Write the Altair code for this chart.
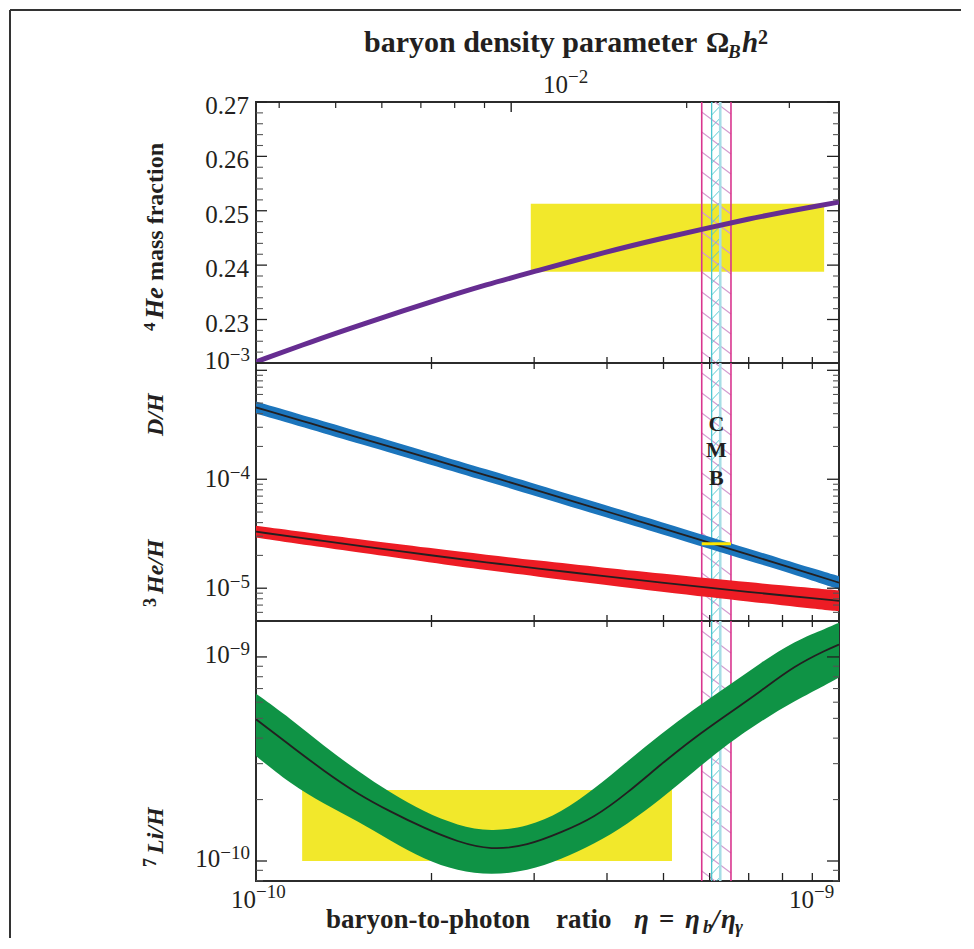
import altair as alt
import numpy as np
import pandas as pd

FONT = "Liberation Serif"
INK = "#231F20"
E10 = 1e-10

# ---------------- data (eta in units of 1e-10) ----------------
eta_grid = [1.0, 1.25, 1.5, 2.0, 2.5, 3.0, 4.0, 5.0, 6.0, 7.0, 8.0, 9.0, 10.0]

he4_yp = [0.2222, 0.2260, 0.2289, 0.2333, 0.2365, 0.2388, 0.2425, 0.2450,
          0.2469, 0.2485, 0.2497, 0.2507, 0.2516]

dh_mid = [4.56e-4, 3.22e-4, 2.42e-4, 1.535e-4, 1.076e-4, 8.04e-5, 5.05e-5,
          3.52e-5, 2.61e-5, 2.03e-5, 1.63e-5, 1.34e-5, 1.125e-5]
dh_hi = [5.18e-4, 3.65e-4, 2.75e-4, 1.74e-4, 1.22e-4, 9.13e-5, 5.73e-5,
         4.00e-5, 2.96e-5, 2.30e-5, 1.85e-5, 1.53e-5, 1.29e-5]
dh_lo = [4.02e-4, 2.84e-4, 2.13e-4, 1.35e-4, 9.48e-5, 7.08e-5, 4.45e-5,
         3.10e-5, 2.30e-5, 1.79e-5, 1.44e-5, 1.17e-5, 0.98e-5]

he3_mid = [3.30e-5, 2.80e-5, 2.45e-5, 2.00e-5, 1.72e-5, 1.53e-5, 1.28e-5,
           1.12e-5, 1.008e-5, 9.25e-6, 8.60e-6, 8.08e-6, 7.66e-6]
he3_hi = [3.74e-5, 3.20e-5, 2.82e-5, 2.33e-5, 2.02e-5, 1.81e-5, 1.53e-5,
          1.36e-5, 1.229e-5, 1.135e-5, 1.060e-5, 1.001e-5, 9.54e-6]
he3_lo = [2.92e-5, 2.45e-5, 2.13e-5, 1.72e-5, 1.46e-5, 1.29e-5, 1.07e-5,
          9.25e-6, 8.27e-6, 7.54e-6, 6.97e-6, 6.52e-6, 6.15e-6]

li_eta = [1.000, 1.148, 1.308, 1.494, 1.704, 1.942, 2.218, 2.530, 2.924, 3.336,
          3.804, 4.341, 4.951, 5.646, 6.445, 7.348, 8.381, 9.564, 10.0]
li_mid = [4.95, 3.66, 2.76, 2.13, 1.74, 1.45, 1.24, 1.13, 1.19, 1.38,
          1.63, 2.16, 2.98, 4.02, 5.24, 6.81, 9.04, 10.9, 11.5]
li_hi = [6.61, 4.97, 3.66, 2.76, 2.15, 1.74, 1.49, 1.39, 1.47, 1.73,
         2.25, 3.09, 4.20, 5.56, 7.21, 9.38, 11.97, 13.9, 14.7]
li_lo = [3.27, 2.38, 1.90, 1.57, 1.25, 1.02, 0.893, 0.853, 0.893, 1.02,
         1.21, 1.52, 2.01, 2.76, 3.75, 4.85, 6.08, 7.38, 7.93]

# observational boxes
he4_box_eta = [2.96, 9.43]
he4_box_y = [0.2388, 0.2513]
li_box_eta = [1.20, 5.17]
li_box_y = [1.00, 2.23]          # x 1e-10
dh_bar_eta = [5.815, 6.527]
dh_bar_y = [2.48e-5, 2.64e-5]

# CMB band
cmb_outer = [5.815, 6.527]
cmb_inner = [6.047, 6.256]

# top axis: Omega_B h^2 ticks, eta10 = Omega / 3.65e-3
omega_ticks = [4e-3, 5e-3, 6e-3, 7e-3, 8e-3, 9e-3, 1e-2, 2e-2, 3e-2]
omega_major = [1e-2]
omega_to_eta10 = 1 / 3.65e-3

# ---------------- scales ----------------
W = 583
H1, H2, H3 = 261, 258, 260
X = alt.Scale(type="log", domain=[1e-10, 1e-9], nice=False)
Y1 = alt.Scale(type="linear", domain=[0.222, 0.270], zero=False, nice=False)
Y2 = alt.Scale(type="log", domain=[5.0e-6, 1.167e-3], nice=False)
Y3 = alt.Scale(type="log", domain=[7.98e-11, 1.5e-9], nice=False)

YELLOW = "#F2E82B"
PURPLE = "#662D91"
BLUE = "#1C75BC"
RED = "#ED1C24"
GREEN = "#0F9345"
MAG = "#D9358E"
MAG_H = "#D39ACF"
CYAN = "#4CC5CE"
CYAN_L = "#A6DDE6"
INTERP = "basis"


def xe(f="eta"):
    return alt.X(f"{f}:Q", scale=X, axis=None)


def ye(f, sc):
    return alt.Y(f"{f}:Q", scale=sc, axis=None)


def band(eta, lo, hi, sc, color, mult=1.0):
    df = pd.DataFrame({"eta": [e * E10 for e in eta],
                       "lo": [v * mult for v in lo],
                       "hi": [v * mult for v in hi]})
    return alt.Chart(df).mark_area(color=color, clip=True, interpolate=INTERP).encode(
        x=xe(), y=ye("lo", sc), y2="hi:Q")


def line(eta, vals, sc, color=INK, width=1.8, mult=1.0):
    df = pd.DataFrame({"eta": [e * E10 for e in eta], "v": [v * mult for v in vals]})
    return alt.Chart(df).mark_line(color=color, strokeWidth=width, clip=True,
                                   interpolate=INTERP).encode(x=xe(), y=ye("v", sc))


def box(eta2, y2, sc, color, mult=1.0):
    df = pd.DataFrame({"x": [eta2[0] * E10], "x2": [eta2[1] * E10],
                       "y": [y2[0] * mult], "y2": [y2[1] * mult]})
    return alt.Chart(df).mark_rect(color=color, clip=True).encode(
        x=xe("x"), x2="x2:Q", y=ye("y", sc), y2="y2:Q")


def px_to_val(p, H, kind, lo, hi):
    if kind == "linear":
        return hi - p / H * (hi - lo)
    return 10 ** (np.log10(hi) - p / H * (np.log10(hi) - np.log10(lo)))


def cmb(H, sc, kind, lo, hi):
    rows = []
    for p in np.arange(-30.0, H + 30.0, 20.0):
        rows.append(dict(x=cmb_outer[0] * E10, x2=cmb_outer[1] * E10,
                         y=px_to_val(p, H, kind, lo, hi),
                         y2=px_to_val(p + 22, H, kind, lo, hi)))
    mag = pd.DataFrame(rows)
    rows = []
    for p in np.arange(-20.0, H + 20.0, 12.0):
        rows.append(dict(x=cmb_inner[0] * E10, x2=cmb_inner[1] * E10,
                         y=px_to_val(p + 9, H, kind, lo, hi),
                         y2=px_to_val(p, H, kind, lo, hi)))
    cya = pd.DataFrame(rows)
    hm = alt.Chart(mag).mark_rule(color=MAG_H, strokeWidth=1.1, clip=True).encode(
        x=xe("x"), x2="x2:Q", y=ye("y", sc), y2="y2:Q")
    hc = alt.Chart(cya).mark_rule(color=CYAN, strokeWidth=0.9, clip=True).encode(
        x=xe("x"), x2="x2:Q", y=ye("y", sc), y2="y2:Q")
    vl = pd.DataFrame({"eta": [cmb_outer[0] * E10, cmb_outer[1] * E10,
                               cmb_inner[0] * E10, cmb_inner[1] * E10],
                       "c": [MAG, MAG, CYAN, CYAN_L],
                       "w": [1.6, 1.6, 1.3, 2.6]})
    vr = alt.Chart(vl).mark_rule().encode(
        x=xe(), y=alt.value(0), y2=alt.value(H),
        color=alt.Color("c:N", scale=None),
        strokeWidth=alt.StrokeWidth("w:Q", scale=None))
    return hm + hc + vr


def hticks(vals, sc, x0, x1, color="#222222", w=1.3):
    return alt.Chart(pd.DataFrame({"v": vals})).mark_rule(color=color, strokeWidth=w).encode(
        y=ye("v", sc), x=alt.value(x0), x2=alt.value(x1))


def vticks(vals, y0, y1, color="#222222", w=1.3):
    return alt.Chart(pd.DataFrame({"eta": vals})).mark_rule(color=color, strokeWidth=w).encode(
        x=xe(), y=alt.value(y0), y2=alt.value(y1))


def yticks_all(major, minor, sc):
    return (hticks(major, sc, 0, 11) + hticks(minor, sc, 0, 7, "#555555", 1.1)
            + hticks(major, sc, W - 12, W) + hticks(minor, sc, W - 6, W, "#555555", 1.1))


def pow_label(v, sc, exp, dyb=8, dye=0, xr=-6, fb=25, fe=19):
    expw = fe * (0.564 + 0.5 * (len(exp) - 1))
    df = pd.DataFrame({"v": [v], "b": ["10"], "e": [exp]})
    b = alt.Chart(df).mark_text(align="right", baseline="alphabetic", dy=dyb, font=FONT,
                                fontSize=fb, color=INK).encode(
        y=ye("v", sc), x=alt.value(xr - expw), text="b:N")
    e = alt.Chart(df).mark_text(align="right", baseline="alphabetic", dy=dye, font=FONT,
                                fontSize=fe, color=INK).encode(
        y=ye("v", sc), x=alt.value(xr), text="e:N")
    return b + e


def txt(s, x, y, size=25, weight="normal", style="normal", align="left", angle=0,
        baseline="alphabetic", color=INK):
    kw = dict(font=FONT, fontSize=size, fontWeight=weight, fontStyle=style,
              align=align, baseline=baseline, color=color)
    if angle:
        kw["angle"] = angle
    return alt.Chart(pd.DataFrame({"t": [s]})).mark_text(**kw).encode(
        x=alt.value(x), y=alt.value(y), text="t:N")


eta_minor_ticks = [k * E10 for k in range(2, 10)]

# ---------------- top panel: 4He ----------------
top_major = [0.23, 0.24, 0.25, 0.26, 0.27]
top_minor = [round(0.222 + 0.002 * i, 3) for i in range(25)]
top_minor = [v for v in top_minor if all(abs(v - m) > 1e-6 for m in top_major)]

om_df = pd.DataFrame({"eta": [o * omega_to_eta10 * E10 for o in omega_ticks]})
om_min = om_df[[o not in omega_major for o in omega_ticks]]
om_maj = om_df[[o in omega_major for o in omega_ticks]]

top_labels = pd.DataFrame({"v": top_major, "t": [f"{v:.2f}" for v in top_major]})

frame = (alt.Chart(pd.DataFrame({"a": [0]})).mark_rule(color="#333333", strokeWidth=2).encode(
    x=alt.value(-246), x2=alt.value(705), y=alt.value(-92))
    + alt.Chart(pd.DataFrame({"a": [0]})).mark_rule(color="#333333", strokeWidth=2).encode(
    x=alt.value(-246), y=alt.value(-92), y2=alt.value(836)))

top = alt.layer(
    frame,
    box(he4_box_eta, he4_box_y, Y1, YELLOW),
    cmb(H1, Y1, "linear", 0.222, 0.270),
    line(eta_grid, he4_yp, Y1, PURPLE, 5),
    yticks_all(top_major, top_minor, Y1),
    alt.Chart(om_min).mark_rule(color="#222222", strokeWidth=1.2).encode(
        x=xe(), y=alt.value(0), y2=alt.value(6)),
    alt.Chart(om_maj).mark_rule(color="#222222", strokeWidth=1.4).encode(
        x=xe(), y=alt.value(0), y2=alt.value(10)),
    alt.Chart(top_labels).mark_text(align="right", baseline="alphabetic", dy=12, font=FONT,
                                    fontSize=25, color=INK).encode(
        y=ye("v", Y1), x=alt.value(-7), text="t:N"),
    # top title
    txt("baryon density parameter", 108, -50, 30, "bold"),
    txt("\u03a9", 450, -50, 29, "bold"),
    txt("B", 472, -44, 19, "bold", "italic"),
    txt("h", 486, -50, 29, "bold", "italic"),
    txt("2", 502, -58, 20, "bold"),
    # top axis label 10^-2
    txt("10", 312, -9, 25, align="right"),
    txt("\u22122", 312, -19, 19),
    # y title
    txt("4", -101, 229, 17, "bold", angle=270),
    txt("He", -93, 217, 26, "bold", "italic", angle=270),
    txt("mass fraction", -93, 179, 24, "bold", angle=270),
).properties(width=W, height=H1)

# ---------------- middle panel: D and 3He ----------------
mid_major = [1e-5, 1e-4, 1e-3]
mid_minor = [k * 10.0 ** e for e in (-6, -5, -4) for k in range(2, 10)]
mid_minor = [v for v in mid_minor if 5.0e-6 <= v <= 1.167e-3]

cmb_letters = pd.DataFrame({"eta": [6.16 * E10] * 3, "yp": [61, 87, 115], "t": ["C", "M", "B"]})

mid = alt.layer(
    cmb(H2, Y2, "log", 5.0e-6, 1.167e-3),
    band(eta_grid, he3_lo, he3_hi, Y2, RED),
    line(eta_grid, he3_mid, Y2),
    band(eta_grid, dh_lo, dh_hi, Y2, BLUE),
    line(eta_grid, dh_mid, Y2),
    box(dh_bar_eta, dh_bar_y, Y2, "#FFE600"),
    alt.Chart(cmb_letters).mark_text(font=FONT, fontSize=22, fontWeight="bold", color=INK,
                                     baseline="middle").encode(
        x=xe(), y=alt.Y("yp:Q", scale=None), text="t:N"),
    yticks_all(mid_major, mid_minor, Y2),
    vticks(eta_minor_ticks, -6, 6),
    pow_label(1e-4, Y2, "\u22124"),
    pow_label(1e-5, Y2, "\u22125"),
    pow_label(1e-3, Y2, "\u22123", dyb=-1, dye=-9),
    txt("D/H", -93, 73, 24, "bold", "italic", angle=270),
    txt("3", -100, 244, 18, "bold", angle=270),
    txt("He/H", -93, 231, 24, "bold", "italic", angle=270),
).properties(width=W, height=H2)

# ---------------- bottom panel: 7Li ----------------
bot_major = [1e-10, 1e-9]
bot_minor = [8e-11, 9e-11] + [k * 1e-10 for k in range(2, 10)]

xlab = pd.DataFrame({"eta": [1e-10, 1e-9], "b": ["10", "10"], "e": ["\u221210", "\u22129"]})

bot = alt.layer(
    box(li_box_eta, li_box_y, Y3, YELLOW, mult=E10),
    cmb(H3, Y3, "log", 7.98e-11, 1.5e-9),
    band(li_eta, li_lo, li_hi, Y3, GREEN, mult=E10),
    line(li_eta, li_mid, Y3, mult=E10),
    yticks_all(bot_major, bot_minor, Y3),
    vticks(eta_minor_ticks, -6, 6),
    vticks(eta_minor_ticks, H3 - 8, H3),
    pow_label(1e-9, Y3, "\u22129", dyb=6, dye=-2),
    pow_label(1e-10, Y3, "\u221210", dyb=6, dye=-2),
    alt.Chart(xlab.iloc[[0]]).mark_text(align="right", baseline="alphabetic", font=FONT,
                                        fontSize=25, color=INK).encode(
        x=xe(), y=alt.value(287), text="b:N"),
    alt.Chart(xlab.iloc[[0]]).mark_text(align="left", baseline="alphabetic", font=FONT,
                                        fontSize=19, color=INK).encode(
        x=xe(), y=alt.value(277), text="e:N"),
    alt.Chart(xlab.iloc[[1]]).mark_text(align="right", baseline="alphabetic", font=FONT,
                                        fontSize=25, color=INK, dx=-25).encode(
        x=xe(), y=alt.value(287), text="b:N"),
    alt.Chart(xlab.iloc[[1]]).mark_text(align="left", baseline="alphabetic", font=FONT,
                                        fontSize=19, color=INK, dx=-25).encode(
        x=xe(), y=alt.value(277), text="e:N"),
    # x title
    txt("baryon-to-photon", 70, 307, 27, "bold"),
    txt("ratio", 300, 307, 27, "bold"),
    txt("\u03b7", 378, 307, 27, "bold", "italic"),
    txt("=", 403, 307, 27, "bold"),
    txt("\u03b7", 429, 307, 27, "bold", "italic"),
    txt("b", 447, 312, 19, "bold", "italic"),
    txt("/", 456, 307, 27, "bold", "italic"),
    txt("\u03b7", 465, 307, 27, "bold", "italic"),
    txt("\u03b3", 479, 312, 19, "bold", "italic"),
    # y title
    txt("7", -100, 246, 18, "bold", angle=270),
    txt("Li/H", -93, 233, 24, "bold", "italic", angle=270),
).properties(width=W, height=H3)

chart = alt.vconcat(top, mid, bot, spacing=0, bounds="flush").configure_view(
    stroke="#2B2B2B", strokeWidth=2
).properties(padding=0)

chart.save("out.html", embed_options={"renderer": "svg", "actions": False})
